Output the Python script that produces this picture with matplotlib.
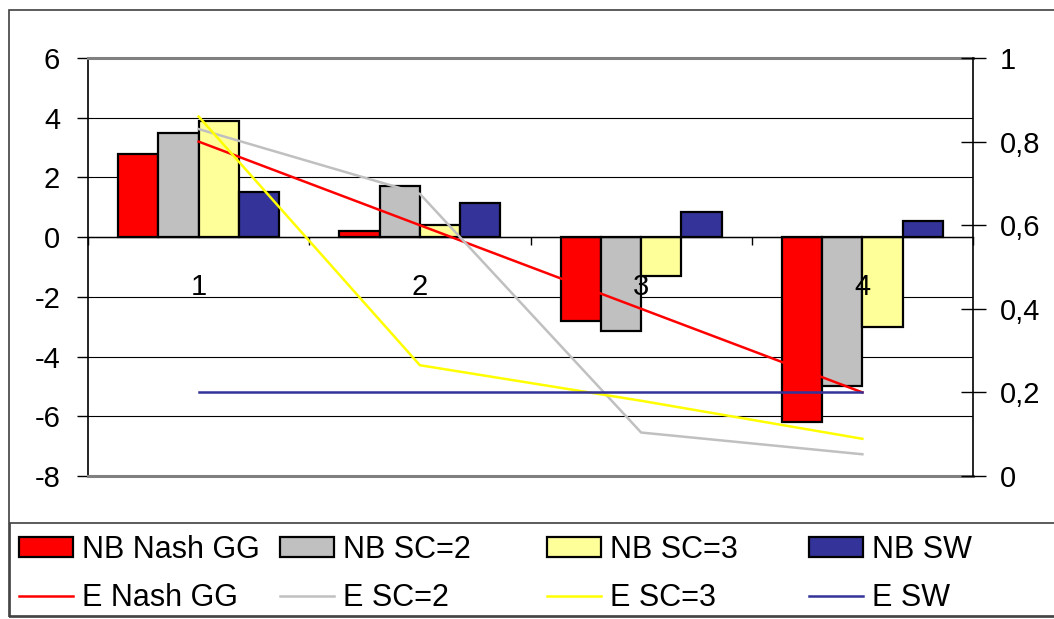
import numpy as np
import matplotlib.pyplot as plt
from matplotlib.patches import Rectangle, Patch
from matplotlib.lines import Line2D

plt.rcParams['font.family'] = ['Liberation Sans', 'DejaVu Sans']
plt.rcParams['axes.unicode_minus'] = False

categories = ["1", "2", "3", "4"]

# bars, left axis
nb_nash = [2.8, 0.2, -2.8, -6.2]
nb_sc2 = [3.5, 1.7, -3.15, -5.0]
nb_sc3 = [3.9, 0.4, -1.3, -3.0]
nb_sw = [1.5, 1.15, 0.85, 0.53]

# lines, right axis
e_nash = [0.8, 0.6, 0.4, 0.2]
e_sc2 = [0.83, 0.675, 0.104, 0.052]
e_sc3 = [0.86, 0.265, 0.18, 0.089]
e_sw = [0.2, 0.2, 0.2, 0.2]

bar_names = ["NB Nash GG", "NB SC=2", "NB SC=3", "NB SW"]
line_names = ["E Nash GG", "E SC=2", "E SC=3", "E SW"]
bar_colors = ["#FF0000", "#C0C0C0", "#FFFF99", "#333399"]
line_colors = ["#FF0000", "#C0C0C0", "#FFFF00", "#333399"]

W, H = 1054, 619
fig = plt.figure(figsize=(W / 100, H / 100), dpi=100)
ax = fig.add_axes([88 / W, 1 - 476 / H, (973 - 88) / W, (476 - 58) / H])

x = np.arange(len(categories))
w = 1 / 5.5
bars = [nb_nash, nb_sc2, nb_sc3, nb_sw]
for i, vals in enumerate(bars):
    ax.bar(x + (i - 1.5) * w, vals, w, color=bar_colors[i], edgecolor="black",
           linewidth=1.6, zorder=3)

ax.set_xlim(-0.5, 3.5)
ax.set_ylim(-8, 6)
ax.set_yticks(np.arange(-8, 7, 2))
ax.yaxis.grid(True, color="black", linewidth=0.8)
ax.set_axisbelow(True)
ax.tick_params(axis="y", direction="out", length=8, width=1, pad=12, labelsize=21)

# category axis sits at zero, its labels drawn over the bars
ax.spines["bottom"].set_position(("data", 0))
ax.spines["bottom"].set_linewidth(1)
ax.spines["bottom"].set_zorder(3.5)
ax.set_xticks(x, categories)
ax.set_xticks(np.arange(-0.5, 4, 1), minor=True)
ax.tick_params(axis="x", which="major", length=0, pad=26, labelsize=21)
ax.tick_params(axis="x", which="minor", direction="out", length=6, width=1)
ax.xaxis.set_zorder(5)
ax.spines["top"].set_color("#808080")
ax.spines["top"].set_linewidth(2.2)
ax.spines["right"].set_visible(False)
ax.spines["left"].set_linewidth(1.2)
ax.axhline(-8, color="#808080", linewidth=2.2, clip_on=False, zorder=4)

ax2 = ax.twinx()
for i, vals in enumerate([e_nash, e_sc2, e_sc3, e_sw]):
    ax2.plot(x, vals, color=line_colors[i], linewidth=1.8)
ax2.set_ylim(0, 1)
rticks = np.arange(0, 1.01, 0.2).round(1)
ax2.set_yticks(rticks)
ax2.set_yticklabels([("%g" % v).replace(".", ",") for v in rticks])
ax2.tick_params(axis="y", direction="inout", length=18, width=1, pad=10, labelsize=21)
for s in ["top", "bottom", "left"]:
    ax2.spines[s].set_visible(False)
ax2.spines["right"].set_linewidth(1.2)

# outer frame and legend box
fig.patches.append(Rectangle((9 / W, 1 - 617 / H), 1.1, (617 - 10) / H, transform=fig.transFigure,
                             fill=False, edgecolor="#404040", linewidth=1.2))
fig.patches.append(Rectangle((10 / W, 1 - 616 / H), 1.1, (616 - 523) / H, transform=fig.transFigure,
                             fill=False, edgecolor="#404040", linewidth=1.2))

col_x = [19, 280, 547, 809]
for i in range(4):
    handles = [Patch(facecolor=bar_colors[i], edgecolor="black", linewidth=1.6),
               Line2D([], [], color=line_colors[i], linewidth=1.8)]
    fig.legend(handles, [bar_names[i], line_names[i]], loc="upper left",
               bbox_to_anchor=(col_x[i] / W, 1 - 535 / H), frameon=False,
               borderpad=0, borderaxespad=0, handlelength=1.77, handleheight=0.62,
               handletextpad=0.28, labelspacing=0.6, fontsize=22)

fig.savefig("out.png", dpi=100)
